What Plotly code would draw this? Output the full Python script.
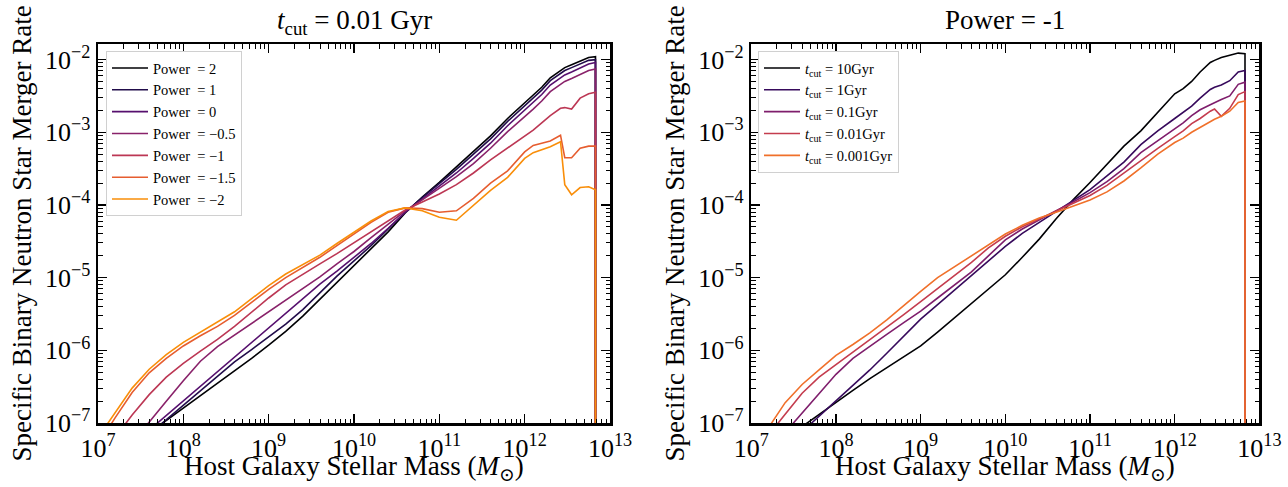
import plotly.graph_objects as go

# ---------------- data (log10 values) ----------------
log_mass = [7.0, 7.2, 7.4, 7.6, 7.8, 8.0, 8.2, 8.4, 8.6, 8.8, 9.0, 9.2, 9.4, 9.6, 9.8, 10.0,
            10.2, 10.4, 10.6, 10.8, 11.0, 11.2, 11.4, 11.6, 11.8, 12.0,
            12.1, 12.2, 12.3, 12.42, 12.47, 12.55, 12.65, 12.75, 12.83, 12.83]
NEG_INF = float("-inf")  # zero rate beyond the last mass bin

# Left panel: t_cut = 0.01 Gyr, varying power
left_names = ["Power\u00a0 = 2", "Power\u00a0 = 1", "Power\u00a0 = 0", "Power\u00a0 = \u22120.5",
              "Power\u00a0 = \u22121", "Power\u00a0 = \u22121.5", "Power\u00a0 = \u22122"]
left_colors = ["#000004", "#210c4a", "#56106e", "#89226a", "#bc3754", "#e65d2f", "#f98e09"]
power_p2 = [-7.65, -7.48, -7.31, -7.14, -6.97, -6.80, -6.63, -6.46, -6.28, -6.11, -5.93, -5.74, -5.53, -5.30, -5.06, -4.83,
            -4.60, -4.37, -4.11, -3.89, -3.69, -3.48, -3.27, -3.05, -2.81, -2.60,
            -2.49, -2.38, -2.25, -2.15, -2.11, -2.07, -2.02, -1.97, -1.96, NEG_INF]
power_p1 = [-7.75, -7.55, -7.35, -7.15, -6.95, -6.75, -6.55, -6.35, -6.16, -5.99, -5.82, -5.64, -5.44, -5.21, -4.98, -4.77,
            -4.56, -4.33, -4.10, -3.90, -3.71, -3.51, -3.30, -3.09, -2.85, -2.64,
            -2.53, -2.42, -2.29, -2.19, -2.15, -2.11, -2.06, -2.01, -2.00, NEG_INF]
power_0 = [-7.70, -7.50, -7.30, -7.10, -6.90, -6.70, -6.50, -6.30, -6.10, -5.90, -5.70, -5.49, -5.29, -5.09, -4.91, -4.72,
           -4.53, -4.32, -4.10, -3.92, -3.74, -3.56, -3.36, -3.15, -2.91, -2.70,
           -2.59, -2.48, -2.35, -2.25, -2.21, -2.17, -2.11, -2.06, -2.04, NEG_INF]
power_m05 = [-7.85, -7.56, -7.27, -6.98, -6.70, -6.42, -6.15, -5.95, -5.79, -5.62, -5.46, -5.30, -5.15, -4.99, -4.81, -4.64,
             -4.45, -4.26, -4.08, -3.93, -3.77, -3.61, -3.43, -3.22, -2.99, -2.79,
             -2.68, -2.57, -2.44, -2.34, -2.30, -2.26, -2.20, -2.15, -2.13, NEG_INF]
power_m1 = [-7.55, -7.20, -6.89, -6.61, -6.37, -6.18, -6.01, -5.85, -5.67, -5.47, -5.28, -5.10, -4.95, -4.81, -4.67, -4.52,
            -4.36, -4.21, -4.07, -3.96, -3.85, -3.72, -3.56, -3.38, -3.22, -3.05,
            -2.97, -2.87, -2.77, -2.67, -2.66, -2.68, -2.53, -2.47, -2.45, NEG_INF]
power_m15 = [-7.30, -6.93, -6.58, -6.31, -6.11, -5.94, -5.80, -5.67, -5.52, -5.34, -5.16, -5.00, -4.86, -4.72, -4.56, -4.40,
             -4.24, -4.10, -4.04, -4.05, -4.10, -4.08, -3.91, -3.70, -3.53, -3.27,
             -3.18, -3.15, -3.12, -3.04, -3.35, -3.35, -3.22, -3.19, -3.19, NEG_INF]
power_m2 = [-7.20, -6.86, -6.52, -6.26, -6.06, -5.89, -5.75, -5.62, -5.47, -5.29, -5.11, -4.95, -4.82, -4.69, -4.53, -4.38,
            -4.22, -4.09, -4.04, -4.08, -4.17, -4.21, -4.01, -3.80, -3.62, -3.36,
            -3.28, -3.24, -3.20, -3.13, -3.72, -3.86, -3.76, -3.75, -3.79, NEG_INF]

# Right panel: power = -1, varying t_cut
right_names = ["<i>t</i><sub>cut</sub> = 10Gyr", "<i>t</i><sub>cut</sub> = 1Gyr",
               "<i>t</i><sub>cut</sub> = 0.1Gyr", "<i>t</i><sub>cut</sub> = 0.01Gyr",
               "<i>t</i><sub>cut</sub> = 0.001Gyr"]
right_colors = ["#000004", "#370a5c", "#7f1e6c", "#c43c4e", "#f0702a"]
tcut_10 = [-7.70, -7.45, -7.22, -7.05, -6.88, -6.71, -6.55, -6.39, -6.24, -6.09, -5.94, -5.75, -5.55, -5.35, -5.16, -4.96,
           -4.72, -4.47, -4.19, -3.93, -3.69, -3.44, -3.19, -2.98, -2.72, -2.47,
           -2.40, -2.30, -2.17, -2.04, -2.01, -1.97, -1.94, -1.91, -1.92, NEG_INF]
tcut_1 = [-7.80, -7.56, -7.34, -7.12, -6.91, -6.70, -6.48, -6.27, -6.04, -5.81, -5.57, -5.37, -5.17, -4.98, -4.78, -4.57,
          -4.39, -4.24, -4.10, -3.95, -3.79, -3.60, -3.41, -3.17, -2.98, -2.81,
          -2.73, -2.64, -2.53, -2.41, -2.38, -2.35, -2.29, -2.17, -2.15, NEG_INF]
tcut_01 = [-7.75, -7.40, -7.13, -6.86, -6.59, -6.33, -6.11, -5.94, -5.78, -5.62, -5.46, -5.28, -5.10, -4.92, -4.70, -4.48,
           -4.33, -4.20, -4.08, -3.96, -3.83, -3.68, -3.50, -3.28, -3.12, -2.96,
           -2.87, -2.77, -2.69, -2.62, -2.59, -2.55, -2.50, -2.34, -2.31, NEG_INF]
tcut_001 = [-7.50, -7.17, -6.88, -6.59, -6.37, -6.20, -6.03, -5.86, -5.69, -5.51, -5.33, -5.15, -4.97, -4.79, -4.59, -4.43,
            -4.30, -4.19, -4.09, -3.98, -3.87, -3.73, -3.56, -3.38, -3.22, -3.06,
            -2.98, -2.88, -2.81, -2.71, -2.68, -2.78, -2.67, -2.48, -2.44, NEG_INF]
tcut_0001 = [-7.50, -7.07, -6.72, -6.47, -6.27, -6.07, -5.92, -5.76, -5.58, -5.38, -5.19, -5.00, -4.85, -4.71, -4.55, -4.40,
             -4.28, -4.18, -4.10, -4.02, -3.93, -3.82, -3.67, -3.49, -3.30, -3.14,
             -3.08, -3.00, -2.93, -2.85, -2.82, -2.78, -2.71, -2.59, -2.57, NEG_INF]

x_tick_exps = [7, 8, 9, 10, 11, 12, 13]
x_tick_labels = ["10<sup>7</sup>", "10<sup>8</sup>", "10<sup>9</sup>", "10<sup>10</sup>",
                 "10<sup>11</sup>", "10<sup>12</sup>", "10<sup>13</sup>"]
y_tick_exps = [-7, -6, -5, -4, -3, -2]
y_tick_labels = ["10<sup>\u22127</sup>", "10<sup>\u22126</sup>", "10<sup>\u22125</sup>",
                 "10<sup>\u22124</sup>", "10<sup>\u22123</sup>", "10<sup>\u22122</sup>"]

left_title = "<i>t</i><sub>cut</sub> = 0.01 Gyr"
right_title = "Power = -1"
x_title = "Host Galaxy Stellar Mass (<i>M</i><sub>\u2299</sub>)"
y_title = "Specific Binary Neutron Star Merger Rate"

# ---------------- figure ----------------
FONT = "Liberation Serif, Times New Roman, DejaVu Serif, serif"
W, H = 1288, 487
FLOOR = 1e-12  # where a zero rate is drawn on the log axis


def to_rate(vals):
    out = []
    for v in vals:
        r = 10 ** v
        out.append(r if r > 0 else FLOOR)
    return out


masses = [10 ** m for m in log_mass]

fig = go.Figure()
left_series = [power_p2, power_p1, power_0, power_m05, power_m1, power_m15, power_m2]
for name, vals, col in zip(left_names, left_series, left_colors):
    fig.add_trace(go.Scatter(x=masses, y=to_rate(vals), mode="lines", name=name,
                             line=dict(color=col, width=1.6), xaxis="x", yaxis="y",
                             legend="legend", hoverinfo="skip"))

right_series = [tcut_10, tcut_1, tcut_01, tcut_001, tcut_0001]
for name, vals, col in zip(right_names, right_series, right_colors):
    fig.add_trace(go.Scatter(x=masses, y=to_rate(vals), mode="lines", name=name,
                             line=dict(color=col, width=1.6), xaxis="x2", yaxis="y2",
                             legend="legend2", hoverinfo="skip"))

axis_base = dict(type="log", showline=True, linecolor="black", linewidth=2.5, mirror="ticks",
                 ticks="inside", ticklen=9, tickwidth=1.3, tickcolor="black",
                 showgrid=False, zeroline=False, automargin=False,
                 tickfont=dict(family=FONT, size=26, color="black"),
                 minor=dict(ticks="inside", ticklen=4.5, tickwidth=1, tickcolor="black",
                            dtick="D1", showgrid=False))

xt = dict(tickmode="array", tickvals=[10 ** e for e in x_tick_exps], ticktext=x_tick_labels,
          range=[7, 13])
yt = dict(tickmode="array", tickvals=[10 ** e for e in y_tick_exps], ticktext=y_tick_labels,
          range=[-7, -1.785])

ydom = [64 / H, 443 / H]
x1dom = [98 / W, 610 / W]
x2dom = [751.3 / W, 1259.4 / W]

leg_common = dict(xanchor="left", yanchor="top", bgcolor="white", bordercolor="#d0d0d0",
                  borderwidth=1, font=dict(family=FONT, size=14.5, color="black"),
                  itemwidth=36, tracegroupgap=0)

fig.update_layout(
    width=W, height=H,
    margin=dict(l=0, r=0, t=0, b=0),
    paper_bgcolor="white", plot_bgcolor="white",
    font=dict(family=FONT, color="black"),
    xaxis=dict(**axis_base, **xt, domain=x1dom, anchor="y"),
    yaxis=dict(**axis_base, **yt, domain=ydom, anchor="x"),
    xaxis2=dict(**axis_base, **xt, domain=x2dom, anchor="y2"),
    yaxis2=dict(**axis_base, **yt, domain=ydom, anchor="x2"),
    legend=dict(x=106 / W, y=1 - 51 / H, **leg_common),
    legend2=dict(x=758 / W, y=1 - 51 / H, **leg_common),
    showlegend=True,
)

ann_font = dict(family=FONT, size=27, color="black")
annotations = [
    dict(text=left_title, x=(x1dom[0] + x1dom[1]) / 2, y=1 - 22 / H, xref="paper", yref="paper",
         xanchor="center", yanchor="middle", showarrow=False, font=ann_font),
    dict(text=right_title, x=(x2dom[0] + x2dom[1]) / 2, y=1 - 20 / H, xref="paper", yref="paper",
         xanchor="center", yanchor="middle", showarrow=False, font=ann_font),
    dict(text=x_title, x=(x1dom[0] + x1dom[1]) / 2, y=0, xref="paper", yref="paper",
         xanchor="center", yanchor="bottom", showarrow=False, font=ann_font),
    dict(text=x_title, x=(x2dom[0] + x2dom[1]) / 2, y=0, xref="paper", yref="paper",
         xanchor="center", yanchor="bottom", showarrow=False, font=ann_font),
    dict(text=y_title, x=21 / W, y=(ydom[0] + ydom[1]) / 2, xref="paper", yref="paper",
         xanchor="center", yanchor="middle", textangle=-90, showarrow=False, font=ann_font),
    dict(text=y_title, x=674 / W, y=(ydom[0] + ydom[1]) / 2, xref="paper", yref="paper",
         xanchor="center", yanchor="middle", textangle=-90, showarrow=False, font=ann_font),
]
fig.update_layout(annotations=annotations)

# remove the browser's default page margin so the figure sits at the window origin
fig.write_html("out.html",
               config={"displayModeBar": False, "staticPlot": True},
               post_script="document.body.style.margin='0px';document.body.style.overflow='hidden';")
